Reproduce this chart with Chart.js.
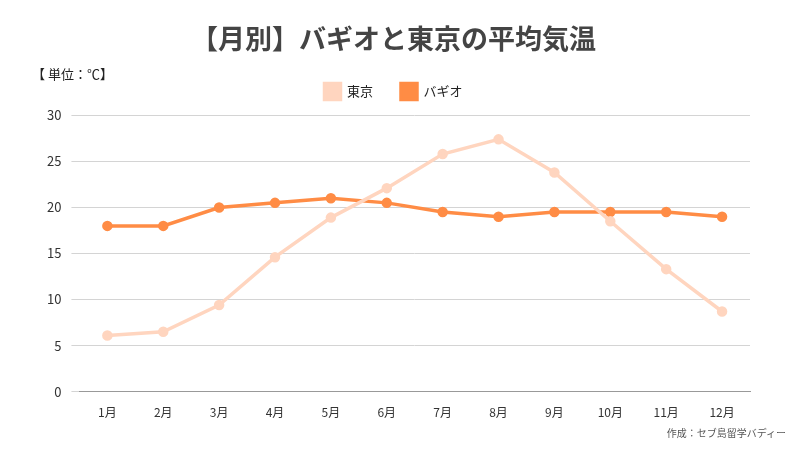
<!DOCTYPE html>
<html>
<head>
<meta charset="utf-8">
<script src="https://cdn.jsdelivr.net/npm/chart.js@4"></script>
<style>
  body { margin: 0; background: #fff; font-family: "Noto Sans CJK JP", "Noto Sans", sans-serif; }
  #wrap { position: relative; width: 800px; height: 450px; }
  #unit { position: absolute; left: 32px; top: 64px; font-size: 13px; color: #222; }
  #source { position: absolute; right: 14px; top: 425px; font-size: 10px; color: #555; }
</style>
</head>
<body>
<div id="wrap">
  <canvas id="chart" width="800" height="450"></canvas>
  <div id="unit">【 単位：℃】</div>
  <div id="source">作成：セブ島留学バディー</div>
</div>
<script>
const months = ["1月", "2月", "3月", "4月", "5月", "6月", "7月", "8月", "9月", "10月", "11月", "12月"];
const tokyoTemps = [6.1, 6.5, 9.4, 14.6, 18.9, 22.1, 25.8, 27.4, 23.8, 18.5, 13.3, 8.7];
const baguioTemps = [18, 18, 20, 20.5, 21, 20.5, 19.5, 19, 19.5, 19.5, 19.5, 19];

// extra space under the legend
const legendMargin = {
  id: "legendMargin",
  beforeInit(chart) {
    const fit = chart.legend.fit;
    chart.legend.fit = function () {
      fit.bind(chart.legend)();
      this.height += 6;
    };
  },
};

const ctx = document.getElementById("chart").getContext("2d");
const chart = new Chart(ctx, {
  type: "line",
  data: {
    labels: months,
    datasets: [
      {
        label: "東京",
        data: tokyoTemps,
        borderColor: "#ffd5bf",
        backgroundColor: "#ffd5bf",
        borderWidth: 3.5,
        pointRadius: 3.5,
        tension: 0,
      },
      {
        label: "バギオ",
        data: baguioTemps,
        borderColor: "#ff8c45",
        backgroundColor: "#ff8c45",
        borderWidth: 3.5,
        pointRadius: 3.5,
        tension: 0,
      },
    ],
  },
  options: {
    responsive: false,
    animation: false,
    layout: { padding: { left: 37, right: 50, top: 4, bottom: 24 } },
    plugins: {
      title: {
        display: true,
        text: "【月別】バギオと東京の平均気温",
        color: "#444",
        font: { size: 27, weight: "bold", family: "'Noto Sans CJK JP', sans-serif" },
        padding: { top: 19, bottom: 0 },
      },
      legend: {
        display: true,
        labels: {
          boxWidth: 16,
          boxHeight: 16,
          padding: 28,
          color: "#222",
          font: { size: 13, family: "'Noto Sans CJK JP', sans-serif" },
        },
      },
      tooltip: { enabled: false },
    },
    scales: {
      x: {
        offset: true,
        grid: { display: false },
        border: { color: "#999" },
        ticks: { color: "#333", padding: 6, font: { size: 12, family: "'Noto Sans CJK JP', sans-serif" } },
      },
      y: {
        min: 0,
        max: 30,
        ticks: { stepSize: 5, color: "#333", padding: 10, font: { size: 13, family: "'Noto Sans CJK JP', sans-serif" } },
        grid: { color: "#d4d4d4" },
        border: { display: false },
      },
    },
  },
  plugins: [legendMargin],
});
</script>
</body>
</html>
